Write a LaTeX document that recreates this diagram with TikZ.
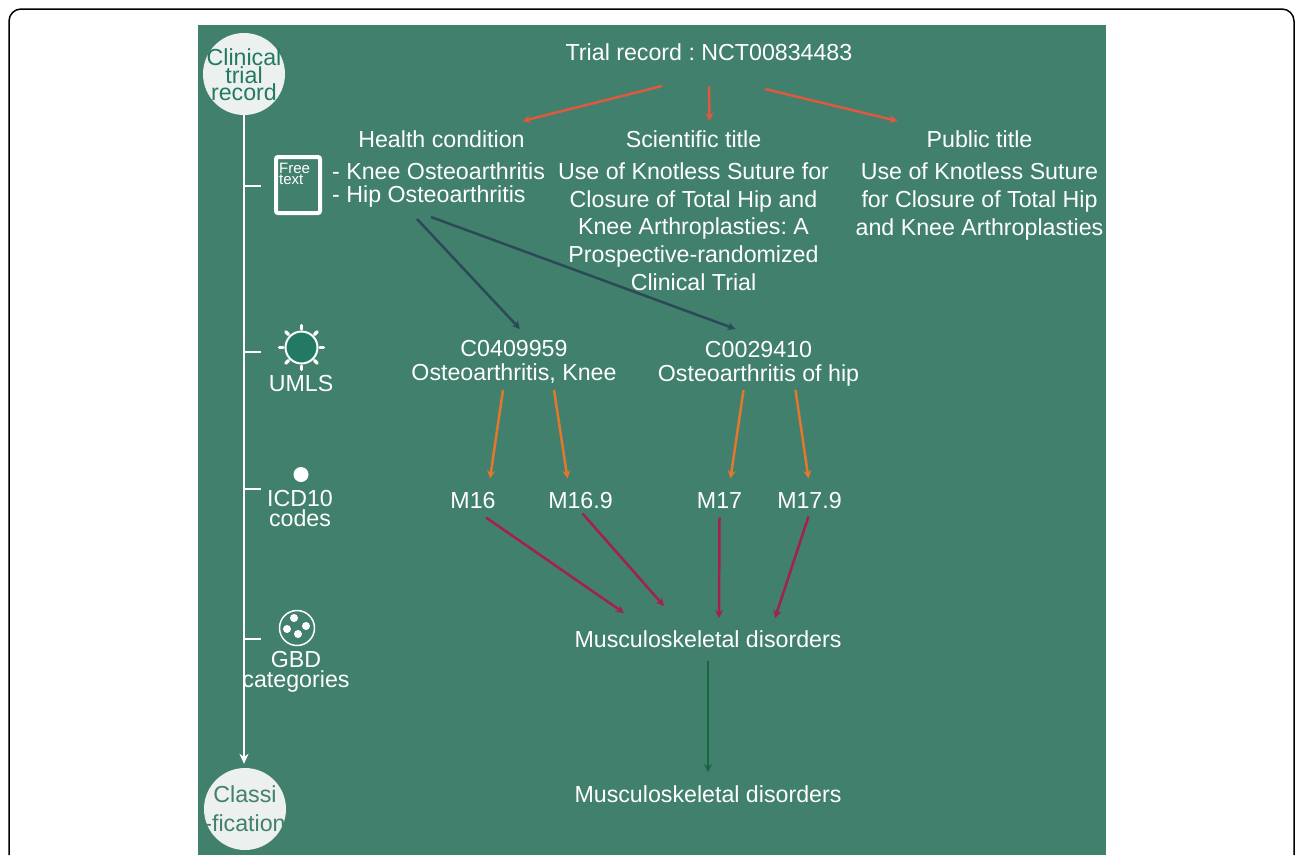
\documentclass[tikz,border=0pt]{standalone}
\usepackage{fontspec}
\setmainfont{Liberation Sans}
\usetikzlibrary{arrows.meta}
\definecolor{panelgreen}{HTML}{41806C}
\definecolor{discgray}{HTML}{ECF0EE}
\definecolor{darkteal}{HTML}{237A64}
\definecolor{redarrow}{HTML}{E0583F}
\definecolor{navyarrow}{HTML}{2B4A58}
\definecolor{orangearrow}{HTML}{E2772E}
\definecolor{crimsonarrow}{HTML}{A3204F}
\definecolor{greenarrow}{HTML}{17663F}
\frenchspacing
\begin{document}
\begin{tikzpicture}[x=1pt,y=-1pt,
    lbl/.style={text=white,inner sep=0pt,align=center,font=\fontsize{23.2}{28}\selectfont},
    tight/.style={lbl,font=\fontsize{23.2}{20}\selectfont},
    disc/.style={circle,fill=discgray,minimum size=82pt,inner sep=0pt},
    link/.style={line width=2.5pt,-{Stealth[length=8pt,width=8pt]}},
    tick/.style={white,line width=1.5pt}]

    \useasboundingbox (0,0) rectangle (1295,855);
    \draw[black,line width=1.5pt,rounded corners=12pt] (9,855) -- (9,9) -- (1294,9) -- (1294,855);
    \fill[panelgreen] (198,25) rectangle (1106,855);

    % left column
    \node[disc] (clinical) at (244,74) {};
    \node[lbl,text=darkteal,font=\fontsize{23.2}{17.5}\selectfont] (clinicaltxt) at (244,75) {Clinical\\trial\\record};
    \node[disc] (classif) at (245,809) {};
    \node[lbl,text=panelgreen,font=\fontsize{23.2}{29}\selectfont] (classiftxt) at (245,809) {Classi\\-fication};
    \draw[white,line width=2.5pt,-{Stealth[length=10pt,width=9pt]}] (clinical.south) -- ([yshift=4pt]clinical.south |- classif.north);

    \coordinate (t1) at (261,186);
    \coordinate (t2) at (261,352);
    \coordinate (t3) at (261,489);
    \coordinate (t4) at (261,639);
    \draw[tick] (clinical.south |- t1) -- (t1);
    \draw[tick] (clinical.south |- t2) -- (t2);
    \draw[tick] (clinical.south |- t3) -- (t3);
    \draw[tick] (clinical.south |- t4) -- (t4);

    \node[draw=white,line width=4pt,rounded corners=2pt,minimum width=44pt,minimum height=56pt,inner sep=0pt] (page) at (298,185) {};
    \node[text=white,inner sep=0pt,align=left,font=\fontsize{15}{11}\selectfont,anchor=north west] (free) at (279,163) {Free\\text};

    \node[circle,draw=white,fill=darkteal,line width=2pt,minimum size=32pt,inner sep=0pt] (sun) at (301.5,347.5) {};
    \foreach \a in {0,45,...,315}
        \draw[white,line width=3.5pt,line cap=round] (sun.\a) ++(\a:1.5pt) -- ++(\a:3.5pt);
    \node[lbl] (umls) at (301,383.5) {UMLS};

    \node[circle,fill=white,minimum size=15pt,inner sep=0pt] (dot) at (301,474.5) {};
    \node[tight] (icd) at (300,508.5) {ICD10\\codes};

    \node[circle,draw=white,line width=1.5pt,minimum size=35pt,inner sep=0pt] (gbdc) at (297,628) {};
    \foreach \dx/\dy in {-3/-10,9/-2,-10/1,1/6}
        \fill[white] ([shift={(\dx,\dy)}]gbdc.center) circle (4pt);
    \node[tight] (gbd) at (296,671.5) {GBD\\categories};

    % trial record
    \node[lbl] (trial) at (709,52) {Trial record : NCT00834483};
    \node[lbl] (health) at (441.5,139) {Health condition};
    \node[lbl] (scititle) at (693.5,139) {Scientific title};
    \node[lbl] (pubtitle) at (979.5,139) {Public title};
    \node[lbl,align=left,anchor=west,font=\fontsize{23.2}{23}\selectfont] (cond) at (332,184.5) {- Knee Osteoarthritis\\- Hip Osteoarthritis};
    \node[lbl,font=\fontsize{23.2}{27.75}\selectfont] (scitext) at (693.5,226.5) {Use of Knotless Suture for\\Closure of Total Hip and\\Knee Arthroplasties: A\\Prospective-randomized\\Clinical Trial};
    \node[lbl] (pubtext) at (979.5,201) {Use of Knotless Suture\\for Closure of Total Hip\\and Knee Arthroplasties};

    % concepts
    \node[lbl,font=\fontsize{23.2}{24}\selectfont] (knee) at (514,362) {C0409959\\Osteoarthritis, Knee};
    \node[lbl,font=\fontsize{23.2}{24}\selectfont] (hip) at (758.5,364) {C0029410\\Osteoarthritis of hip};

    \node[lbl] (m16) at (473,500.5) {M16};
    \node[lbl] (m169) at (580.5,500.5) {M16.9};
    \node[lbl] (m17) at (719.5,500.5) {M17};
    \node[lbl] (m179) at (809.5,500.5) {M17.9};

    \node[lbl] (musc) at (708,639) {Musculoskeletal disorders};
    \node[lbl] (muscb) at (708,794) {Musculoskeletal disorders};

    \draw[link,redarrow] ([shift={(-47,34)}]trial.center) -- ([shift={(81,-18)}]health.center);
    \draw[link,redarrow] ([shift={(0,34)}]trial.center) -- ([shift={(16,-18)}]scititle.center);
    \draw[link,redarrow] ([shift={(56,37)}]trial.center) -- ([shift={(-82,-18)}]pubtitle.center);

    \draw[link,navyarrow] ([shift={(85,34.5)}]cond.west) -- ([shift={(6,-33)}]knee.center);
    \draw[link,navyarrow] ([shift={(99,32.5)}]cond.west) -- ([shift={(-23,-35)}]hip.center);

    \draw[link,orangearrow] ([shift={(-11,28)}]knee.center) -- ([shift={(17,-22)}]m16.center);
    \draw[link,orangearrow] ([shift={(40,28)}]knee.center) -- ([shift={(-13,-22)}]m169.center);
    \draw[link,orangearrow] ([shift={(-15,26)}]hip.center) -- ([shift={(11,-22)}]m17.center);
    \draw[link,orangearrow] ([shift={(37,26)}]hip.center) -- ([shift={(-1,-22)}]m179.center);

    \draw[link,crimsonarrow] ([shift={(13,17)}]m16.center) -- ([shift={(-84,-26)}]musc.center);
    \draw[link,crimsonarrow] ([shift={(2,13)}]m169.center) -- ([shift={(-44,-33)}]musc.center);
    \draw[link,crimsonarrow] ([shift={(0,17)}]m17.center) -- ([shift={(11,-21)}]musc.center);
    \draw[link,crimsonarrow] ([shift={(-1,16)}]m179.center) -- ([shift={(67,-21)}]musc.center);

    \draw[link,greenarrow] ([shift={(0,22)}]musc.center) -- ([shift={(0,-22)}]muscb.center);
\end{tikzpicture}
\end{document}
